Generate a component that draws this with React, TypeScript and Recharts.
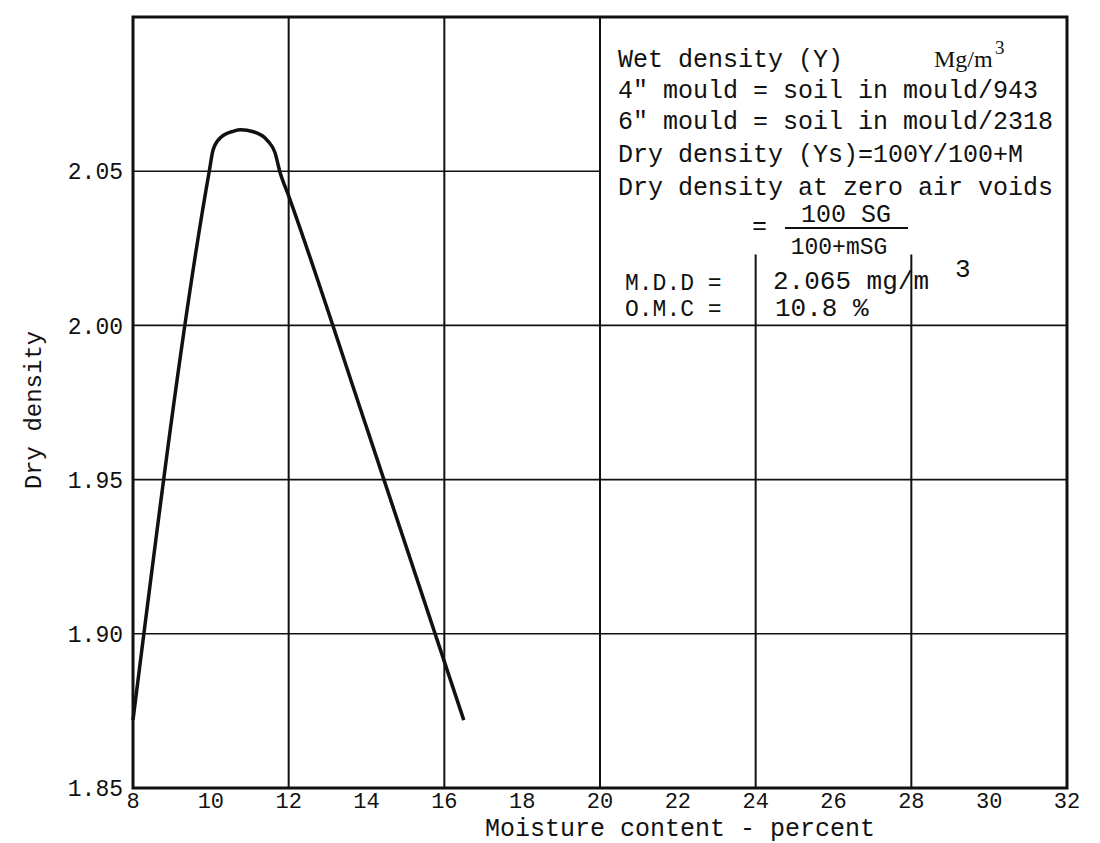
import { LineChart, Line, XAxis, YAxis, ReferenceLine, ReferenceArea } from 'recharts';

// ─── data ─────────────────────────────────────────────────────────────────────

const moisture = [8, 9.96, 10.06, 10.26, 10.59, 10.77, 11.09, 11.45, 11.65, 11.77, 12, 14, 16.5];
const dryDensity = [1.872, 2.05, 2.057, 2.061, 2.063, 2.0634, 2.0628, 2.06, 2.056, 2.05, 2.042, 1.967, 1.872];

const xTicks = [8, 10, 12, 14, 16, 18, 20, 22, 24, 26, 28, 30, 32];
const yTicks = [1.85, 1.9, 1.95, 2.0, 2.05];

// grid lines as drawn on the sheet (some stop at the notes box)
const fullVerticalGrid = [12, 16, 20];
const shortVerticalGrid = [24, 28];
const shortVerticalTop = 2.023;
const fullHorizontalGrid = [1.9, 1.95, 2.0];
const shortHorizontalGrid = [2.05];
const shortHorizontalEnd = 20;

const data = moisture.map((m, i) => ({ m, d: dryDensity[i] }));

const MONO = '"Liberation Mono", "DejaVu Sans Mono", monospace';
const SERIF = '"Liberation Serif", serif';
const INK = '#111';

export default function App() {
  return (
    <div style={{ position: 'absolute', left: 0, top: 0, width: 1100, height: 843, background: '#fff' }}>
      <LineChart
        width={1100}
        height={843}
        data={data}
        margin={{ top: 17, right: 33, bottom: 15, left: 63 }}
      >
        <XAxis
          dataKey="m"
          type="number"
          domain={[8, 32]}
          ticks={xTicks}
          axisLine={false}
          tickLine={false}
          tickSize={2}
          tickMargin={2}
          height={40}
          tick={{ fontFamily: MONO, fontSize: 22, fill: INK }}
        />
        <YAxis
          type="number"
          domain={[1.85, 2.1]}
          ticks={yTicks}
          axisLine={false}
          tickLine={false}
          tickSize={6}
          tickMargin={4}
          width={70}
          tickFormatter={(v: number) => v.toFixed(2)}
          tick={{ fontFamily: MONO, fontSize: 23, fill: INK }}
        />

        {fullVerticalGrid.map((x) => (
          <ReferenceLine key={'v' + x} x={x} stroke={INK} strokeWidth={2} />
        ))}
        {shortVerticalGrid.map((x) => (
          <ReferenceLine
            key={'sv' + x}
            segment={[{ x, y: 1.85 }, { x, y: shortVerticalTop }]}
            stroke={INK}
            strokeWidth={2}
          />
        ))}
        {fullHorizontalGrid.map((y) => (
          <ReferenceLine key={'h' + y} y={y} stroke={INK} strokeWidth={1.6} />
        ))}
        {shortHorizontalGrid.map((y) => (
          <ReferenceLine
            key={'sh' + y}
            segment={[{ x: 8, y }, { x: shortHorizontalEnd, y }]}
            stroke={INK}
            strokeWidth={1.6}
          />
        ))}

        <ReferenceArea x1={8} x2={32} y1={1.85} y2={2.1} fill="none" stroke={INK} strokeWidth={3} />

        <Line
          type="monotone"
          dataKey="d"
          stroke={INK}
          strokeWidth={3.5}
          dot={false}
          isAnimationActive={false}
        />
      </LineChart>

      {/* notes box and axis titles */}
      <svg
        width={1100}
        height={843}
        style={{ position: 'absolute', left: 0, top: 0, pointerEvents: 'none' }}
        fontFamily={MONO}
        fill={INK}
      >
        <text x={35} y={410} fontSize={24} textAnchor="middle" transform="rotate(-90 35 410)" dominantBaseline="middle">
          Dry density
        </text>
        <text x={485} y={836} fontSize={25}>Moisture content - percent</text>

        <text x={618} y={67} fontSize={25}>Wet density (Y)</text>
        <text x={934} y={67} fontSize={24} fontFamily={SERIF}>Mg/m</text>
        <text x={995} y={54} fontSize={19} fontFamily={SERIF}>3</text>
        <text x={618} y={98} fontSize={25}>4" mould = soil in mould/943</text>
        <text x={618} y={129} fontSize={25}>6" mould = soil in mould/2318</text>
        <text x={618} y={162} fontSize={25}>Dry density (Ys)=100Y/100+M</text>
        <text x={618} y={195} fontSize={25}>Dry density at zero air voids</text>
        <text x={752} y={234} fontSize={25}>=</text>
        <text x={846} y={222} fontSize={25} textAnchor="middle">100 SG</text>
        <line x1={785} y1={228} x2={908} y2={228} stroke={INK} strokeWidth={2} />
        <text x={839} y={254} fontSize={23} textAnchor="middle">100+mSG</text>

        <text x={625} y={290} fontSize={23}>M.D.D =</text>
        <text x={625} y={316} fontSize={23}>O.M.C =</text>
        <text x={773} y={289} fontSize={26}>2.065 mg/m</text>
        <text x={955} y={277} fontSize={26}>3</text>
        <text x={775} y={316} fontSize={26}>10.8 %</text>
      </svg>
    </div>
  );
}
